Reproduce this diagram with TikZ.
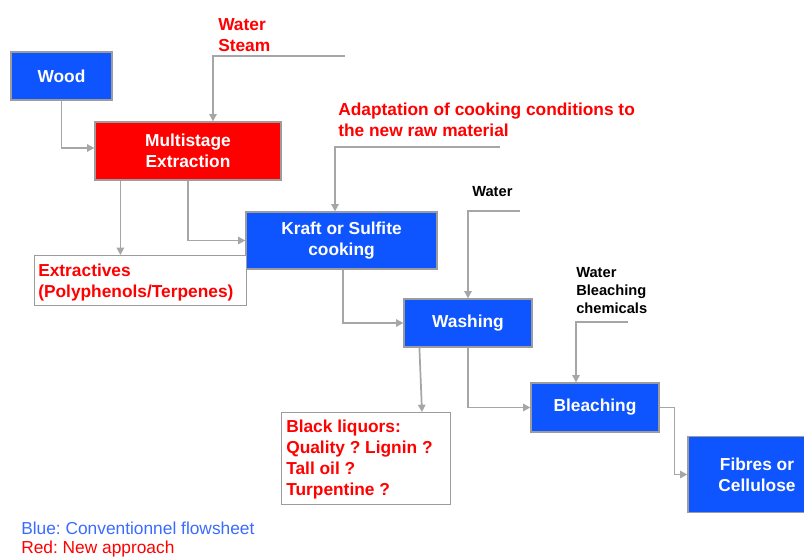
\documentclass[tikz,border=0pt]{standalone}
\usepackage{fontspec}
\setmainfont{Liberation Sans}
\usetikzlibrary{arrows.meta,calc}
\definecolor{boxblue}{HTML}{0F55FF}
\definecolor{boxred}{HTML}{FF0000}
\definecolor{txtred}{HTML}{FF0000}
\definecolor{legblue}{HTML}{3A6BFF}
\definecolor{edgegray}{HTML}{9C9C9C}
\definecolor{linegray}{HTML}{A6A6A6}
\tikzset{
  procbox/.style={draw=edgegray, line width=0.9pt, fill=boxblue, text=white, inner sep=0pt,
    align=center, font=\bfseries\fontsize{13}{15.75}\selectfont},
  newbox/.style={procbox, fill=boxred},
  redlabel/.style={text=txtred, inner sep=0pt, align=left, anchor=north west,
    font=\bfseries\fontsize{13}{15.75}\selectfont},
  blacklabel/.style={text=black, inner sep=0pt, align=left, anchor=north west,
    font=\bfseries\fontsize{11}{13.5}\selectfont},
  flow/.style={draw=linegray, line width=1.3pt, -{Triangle[length=5.5pt,width=5.5pt]}},
}
\frenchspacing
\begin{document}
\begin{tikzpicture}[x=0.75pt,y=-0.75pt]
\useasboundingbox (0,0) rectangle (804,557);
% process boxes
\node[procbox, minimum width=101*0.75pt, minimum height=48*0.75pt] (wood) at (61.5,76) {Wood};
\node[newbox, minimum width=186*0.75pt, minimum height=58*0.75pt] (multi) at (188,151) {Multistage\\Extraction};
\node[procbox, minimum width=191*0.75pt, minimum height=57*0.75pt] (kraft) at (341.5,240.5) {Kraft or Sulfite\\cooking};
\node[procbox, minimum width=128*0.75pt, minimum height=48*0.75pt] (wash) at (468,323) {Washing};
\node[procbox, minimum width=128*0.75pt, minimum height=49*0.75pt] (bleach) at (595,407.5) {Bleaching};
\node[procbox, minimum width=138*0.75pt, minimum height=76*0.75pt] (fibres) at (757,474.5) {Fibres or\\Cellulose};
% output boxes
\node[draw=edgegray, line width=0.9pt, fill=white, minimum width=212*0.75pt, minimum height=50*0.75pt, inner sep=0pt, anchor=north west] (extr) at (34,255) {};
\node[redlabel] (extrtxt) at (38,264) {Extractives\\(Polyphenols/Terpenes)};
\node[draw=edgegray, line width=0.9pt, fill=white, minimum width=169*0.75pt, minimum height=92*0.75pt, inner sep=0pt, anchor=north west] (black) at (281,412) {};
\node[redlabel] (blacktxt) at (286,420) {Black liquors:\\Quality ? Lignin ?\\Tall oil ?\\Turpentine ?};
% input labels
\node[redlabel] (steam) at (218,18) {Water\\Steam};
\node[redlabel] (adapt) at (338,103) {Adaptation of cooking conditions to\\the new raw material};
\node[blacklabel] (water1) at (472,186) {Water};
\node[blacklabel] (water2) at (576,267) {Water\\Bleaching\\chemicals};
\coordinate (steamin) at (345,56);
\coordinate (adaptin) at (500,147);
\coordinate (water1in) at (520,211);
\coordinate (water2in) at (628,322);
% legend
\node[anchor=base west, inner sep=0pt, text=legblue, font=\fontsize{13}{15}\selectfont] (leg1) at (21,534) {Blue: Conventionnel flowsheet};
\node[anchor=base west, inner sep=0pt, text=txtred, font=\fontsize{13}{15}\selectfont] (leg2) at (21,553) {Red: New approach};
% connectors
\draw[flow] (wood.south) |- ([yshift=2.25pt]multi.west);
\draw[flow] (steamin) -| ([xshift=25*0.75pt]multi.north);
\draw[flow] ([xshift=26*0.75pt]multi.south west) -- ([xshift=26*0.75pt]multi.south west |- extr.north);
\draw[flow] (multi.south) |- (kraft.west);
\draw[flow] (adaptin) -| ([xshift=-6.5*0.75pt]kraft.north);
\draw[flow] ([xshift=1.5*0.75pt]kraft.south) |- (wash.west);
\draw[flow] (water1in) -| (wash.north);
\draw[flow] ([xshift=16*0.75pt]wash.south west) -- ([xshift=141*0.75pt]black.north west);
\draw[flow] (wash.south) |- (bleach.west);
\draw[flow] (water2in) -| ([xshift=-19*0.75pt]bleach.north);
\draw[flow] (bleach.east) -- ++(15,0) |- (fibres.west);
\end{tikzpicture}
\end{document}
